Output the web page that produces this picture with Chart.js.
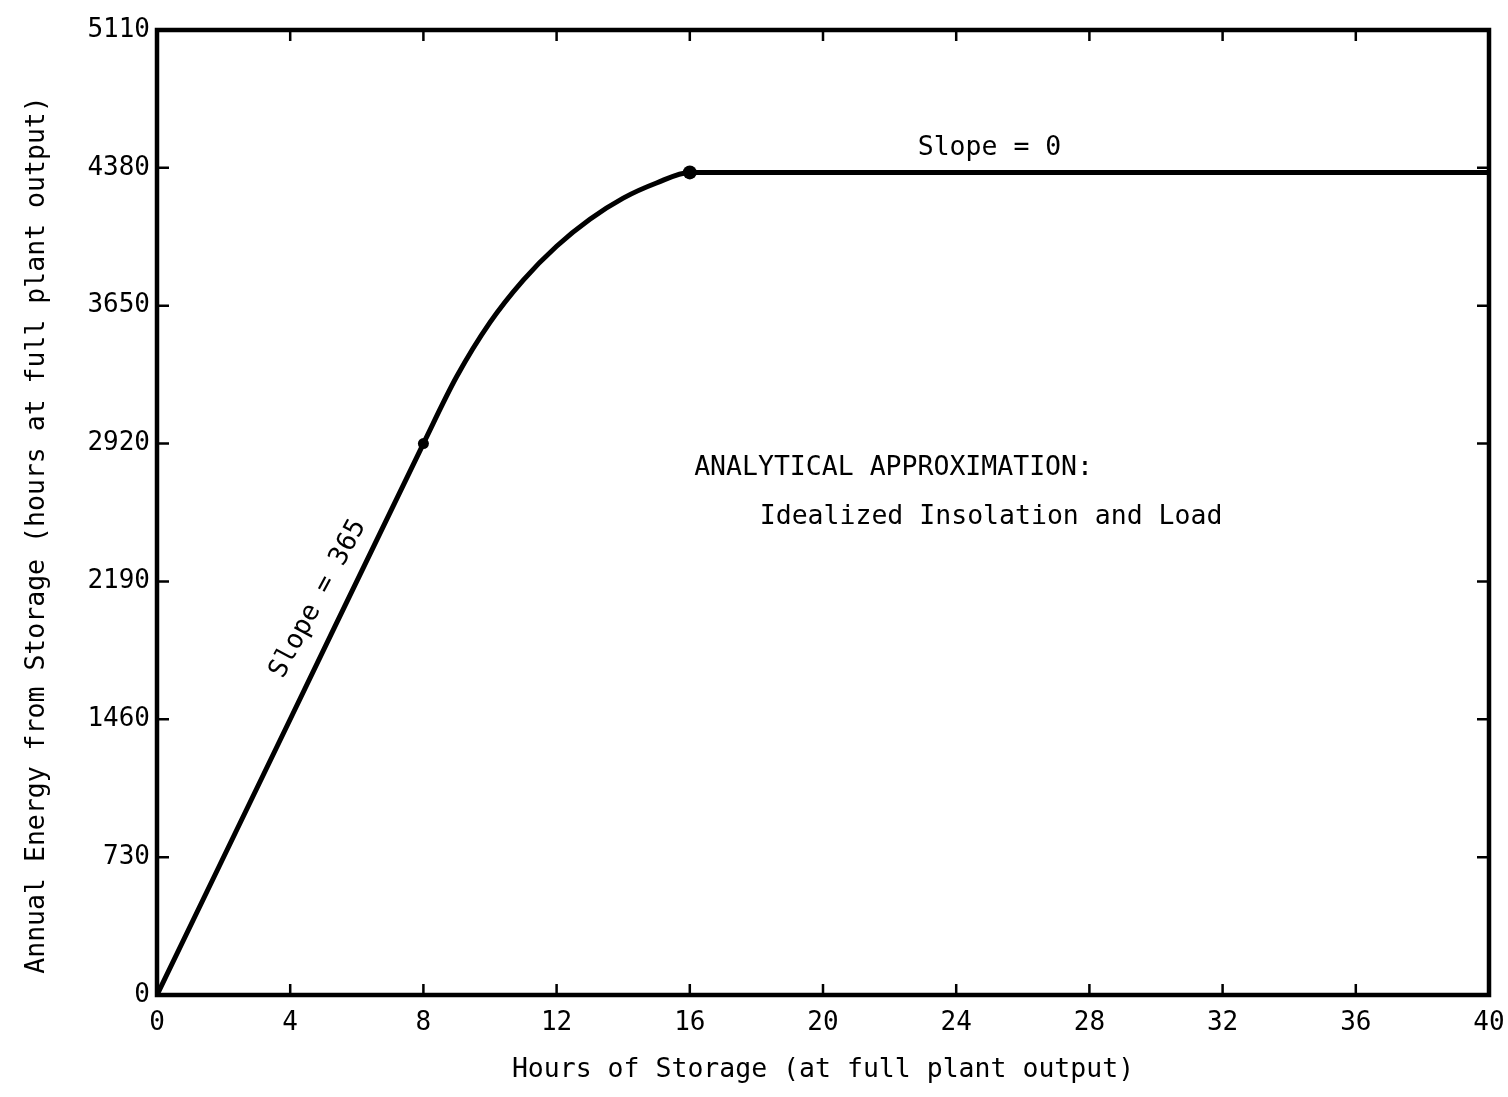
<!DOCTYPE html>
<html>
<head>
<meta charset="utf-8">
<script src="https://cdn.jsdelivr.net/npm/chart.js@4"></script>
<style>
html,body{margin:0;padding:0;background:#fff;}
#wrap{width:1508px;height:1097px;}
</style>
</head>
<body>
<div id="wrap"><canvas id="c" width="1508" height="1097"></canvas></div>
<script>
// Data
const hoursOfStorage = [0, 4, 8, 9, 10, 11, 12, 13, 14, 15, 16, 40];
const annualEnergy   = [0, 1460, 2920, 3275, 3562, 3786, 3965, 4108, 4220, 4300, 4356, 4356];
const markerHours  = [8, 16];
const markerEnergy = [2920, 4356];
const xTickStep = 4, xMin = 0, xMax = 40;
const yTickStep = 730, yMin = 0, yMax = 5110;
const xTitle = 'Hours of Storage (at full plant output)';
const yTitle = 'Annual Energy from Storage (hours at full plant output)';
const annotations = [
  {text: 'Slope = 365', x: 4.84, y: 2098, align: 'center', rotate: -61.8},
  {text: 'Slope = 0', x: 25.0, y: 4487, align: 'center', rotate: 0},
  {text: 'ANALYTICAL APPROXIMATION:', x: 16.13, y: 2792, align: 'left', rotate: 0},
  {text: 'Idealized Insolation and Load', x: 18.1, y: 2532, align: 'left', rotate: 0}
];

const FONT = '"DejaVu Sans Mono", "Liberation Mono", monospace';

const curvePoints = hoursOfStorage.map((h, i) => ({x: h, y: annualEnergy[i]}));
const markerPoints = markerHours.map((h, i) => ({x: h, y: markerEnergy[i]}));

const framePlugin = {
  id: 'frame',
  afterDraw(chart) {
    const {ctx, chartArea: a, scales} = chart;
    const xs = scales.x, ys = scales.y;
    ctx.save();
    ctx.strokeStyle = '#000';
    ctx.fillStyle = '#000';
    // inward ticks on all four sides
    ctx.lineWidth = 2.5;
    ctx.beginPath();
    xs.ticks.forEach(t => {
      if (t.value <= xMin || t.value >= xMax) return;
      const px = xs.getPixelForValue(t.value);
      ctx.moveTo(px, a.bottom); ctx.lineTo(px, a.bottom - 11);
      ctx.moveTo(px, a.top); ctx.lineTo(px, a.top + 11);
    });
    ys.ticks.forEach(t => {
      if (t.value <= yMin || t.value >= yMax) return;
      const py = ys.getPixelForValue(t.value);
      ctx.moveTo(a.left, py); ctx.lineTo(a.left + 12, py);
      ctx.moveTo(a.right, py); ctx.lineTo(a.right - 12, py);
    });
    ctx.stroke();
    // frame
    ctx.lineWidth = 4.5;
    ctx.strokeRect(a.left, a.top, a.right - a.left, a.bottom - a.top);
    // annotations
    ctx.font = '26.5px ' + FONT;
    ctx.textBaseline = 'middle';
    annotations.forEach(an => {
      const px = xs.getPixelForValue(an.x), py = ys.getPixelForValue(an.y);
      ctx.save();
      ctx.translate(px, py);
      ctx.rotate(an.rotate * Math.PI / 180);
      ctx.textAlign = an.align;
      ctx.fillText(an.text, 0, 0);
      ctx.restore();
    });
    // y axis title
    ctx.save();
    ctx.translate(37, 535);
    ctx.rotate(-Math.PI / 2);
    ctx.textAlign = 'center';
    ctx.fillText(yTitle, 0, 0);
    ctx.restore();
    ctx.restore();
  }
};

new Chart(document.getElementById('c'), {
  type: 'line',
  data: {
    datasets: [
      {
        data: curvePoints,
        borderColor: '#000',
        borderWidth: 5,
        pointRadius: 0,
        fill: false,
        cubicInterpolationMode: 'monotone',
        borderCapStyle: 'round',
        borderJoinStyle: 'round'
      },
      {
        data: markerPoints,
        showLine: false,
        pointRadius: [5.5, 7],
        pointBackgroundColor: '#000',
        pointBorderColor: '#000',
        pointBorderWidth: 0
      }
    ]
  },
  options: {
    responsive: false,
    animation: false,
    events: [],
    layout: {padding: {top: 30, right: 19, left: 0, bottom: 0}},
    plugins: {legend: {display: false}, tooltip: {enabled: false}},
    scales: {
      x: {
        type: 'linear',
        min: xMin, max: xMax,
        afterFit(s) { s.height = 102; s.paddingLeft = 0; s.paddingRight = 0; },
        ticks: {stepSize: xTickStep, color: '#000', padding: 13, font: {family: FONT, size: 26}, maxRotation: 0,
                callback: v => String(v)},
        grid: {display: false, drawTicks: false},
        border: {display: false},
        title: {display: true, text: xTitle, color: '#000', font: {family: FONT, size: 26.5}, padding: {top: 0, bottom: 11}}
      },
      y: {
        type: 'linear',
        min: yMin, max: yMax,
        afterFit(s) { s.width = 157; s.paddingTop = 0; s.paddingBottom = 0; },
        ticks: {stepSize: yTickStep, color: '#000', padding: 7, font: {family: FONT, size: 26},
                callback: v => String(v)},
        grid: {display: false, drawTicks: false},
        border: {display: false},
        title: {display: false}
      }
    }
  },
  plugins: [framePlugin]
});
</script>
</body>
</html>
